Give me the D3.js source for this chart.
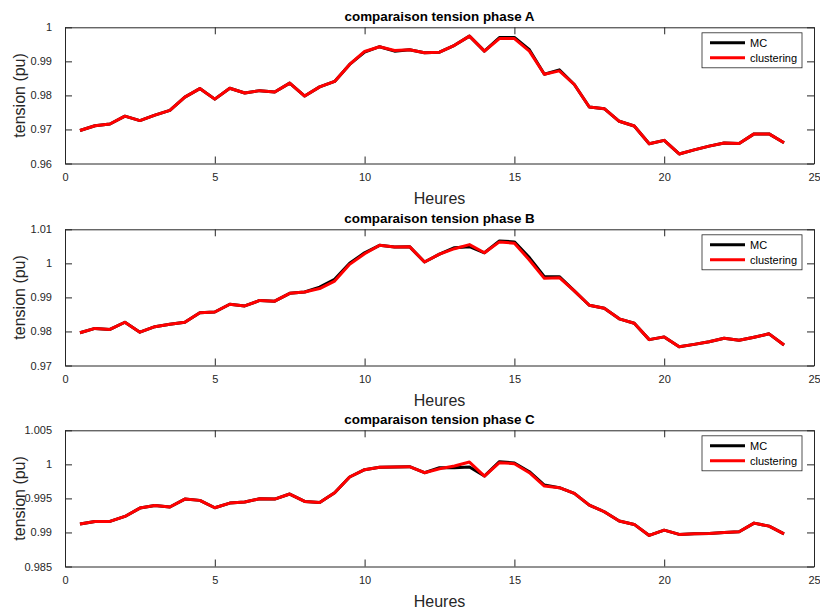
<!DOCTYPE html>
<html>
<head>
<meta charset="utf-8">
<script src="https://cdn.jsdelivr.net/npm/d3@7"></script>
<style>
  html, body { margin: 0; padding: 0; background: #fff; }
  svg { display: block; font-family: "Liberation Sans", Arial, Helvetica, sans-serif; }
</style>
</head>
<body>
<svg id="chart" width="820" height="610"></svg>
<script>
// ---- Data ----
const hours = [0.5,1,1.5,2,2.5,3,3.5,4,4.5,5,5.5,6,6.5,7,7.5,8,8.5,9,9.5,10,10.5,11,11.5,12,
               12.5,13,13.5,14,14.5,15,15.5,16,16.5,17,17.5,18,18.5,19,19.5,20,20.5,21,21.5,22,22.5,23,23.5,24];

const phaseA_clustering = [0.9697,0.9711,0.9716,0.9739,0.9726,0.9742,0.9756,0.9795,0.9820,0.9789,0.9821,0.9807,
  0.9814,0.9810,0.9836,0.9798,0.9825,0.9841,0.9891,0.9929,0.9943,0.9932,0.9934,0.9925,
  0.9927,0.9947,0.9974,0.9930,0.9967,0.9967,0.9930,0.9862,0.9872,0.9832,0.9766,0.9761,
  0.9724,0.9710,0.9658,0.9668,0.9628,0.9640,0.9651,0.9660,0.9659,0.9687,0.9687,0.9661];
const phaseA_MC = [0.9697,0.9711,0.9716,0.9739,0.9726,0.9742,0.9756,0.9795,0.9820,0.9789,0.9821,0.9807,
  0.9814,0.9810,0.9836,0.9798,0.9825,0.9841,0.9891,0.9927,0.9943,0.9930,0.9934,0.9925,
  0.9927,0.9947,0.9974,0.9930,0.9970,0.9970,0.9934,0.9862,0.9875,0.9832,0.9766,0.9761,
  0.9724,0.9710,0.9658,0.9668,0.9628,0.9640,0.9651,0.9660,0.9659,0.9687,0.9687,0.9661];

const phaseB_clustering = [0.9796,0.9809,0.9806,0.9827,0.9798,0.9814,0.9821,0.9827,0.9855,0.9857,0.9880,0.9875,
  0.9891,0.9889,0.9912,0.9916,0.9926,0.9948,0.9997,1.0028,1.0053,1.0048,1.0049,1.0004,
  1.0027,1.0043,1.0055,1.0031,1.0063,1.0059,1.0010,0.9956,0.9958,0.9919,0.9877,0.9868,
  0.9837,0.9824,0.9776,0.9784,0.9755,0.9762,0.9770,0.9780,0.9774,0.9783,0.9793,0.9760];
const phaseB_MC = [0.9796,0.9809,0.9806,0.9827,0.9798,0.9814,0.9821,0.9827,0.9855,0.9857,0.9880,0.9875,
  0.9891,0.9889,0.9912,0.9916,0.9930,0.9953,1.0000,1.0031,1.0053,1.0048,1.0049,1.0004,
  1.0027,1.0046,1.0049,1.0031,1.0066,1.0063,1.0017,0.9961,0.9961,0.9919,0.9877,0.9868,
  0.9837,0.9824,0.9776,0.9784,0.9755,0.9762,0.9770,0.9780,0.9774,0.9783,0.9793,0.9760];

const phaseC_clustering = [0.99123,0.99162,0.99162,0.99235,0.99358,0.99397,0.99373,0.99490,0.99471,0.99363,0.99431,0.99446,
  0.99495,0.99490,0.99564,0.99456,0.99441,0.99583,0.99814,0.99922,0.99956,0.99961,0.99966,0.99877,
  0.99936,0.99975,1.00034,0.99828,1.00025,1.00010,0.99877,0.99681,0.99657,0.99574,0.99402,0.99304,
  0.99167,0.99118,0.98956,0.99034,0.98971,0.98980,0.98985,0.99000,0.99010,0.99137,0.99093,0.98980];
const phaseC_MC = [0.99123,0.99162,0.99162,0.99235,0.99358,0.99397,0.99373,0.99490,0.99471,0.99363,0.99431,0.99446,
  0.99495,0.99490,0.99564,0.99456,0.99441,0.99583,0.99814,0.99922,0.99956,0.99961,0.99966,0.99877,
  0.99951,0.99951,0.99961,0.99828,1.00040,1.00020,0.99892,0.99696,0.99657,0.99574,0.99402,0.99304,
  0.99167,0.99118,0.98956,0.99034,0.98971,0.98980,0.98985,0.99000,0.99010,0.99137,0.99093,0.98980];

const titles = ["comparaison tension phase A", "comparaison tension phase B", "comparaison tension phase C"];
const yDomains = [[0.96, 1], [0.97, 1.01], [0.985, 1.005]];
const yTicks = [[0.96,0.97,0.98,0.99,1], [0.97,0.98,0.99,1,1.01], [0.985,0.99,0.995,1,1.005]];
const xTicks = [0,5,10,15,20,25];
const seriesNames = ["MC", "clustering"];
const xLabel = "Heures";
const yLabel = "tension (pu)";

// ---- Layout ----
const svg = d3.select("#chart");
const left = 65, right = 814;
const tops = [27.3, 229.3, 430.3];
const plotH = 136.2;
const axisColor = "#262626";
const colors = ["#000000", "#ff0000"];
const tickLen = 7;

const x = d3.scaleLinear().domain([0, 25]).range([left, right]);

const panels = [
  { title: titles[0], mc: phaseA_MC, cl: phaseA_clustering, dom: yDomains[0], ticks: yTicks[0] },
  { title: titles[1], mc: phaseB_MC, cl: phaseB_clustering, dom: yDomains[1], ticks: yTicks[1] },
  { title: titles[2], mc: phaseC_MC, cl: phaseC_clustering, dom: yDomains[2], ticks: yTicks[2] }
];

const fmt = v => String(+v.toFixed(3));

panels.forEach((p, i) => {
  const top = tops[i], bottom = top + plotH;
  const y = d3.scaleLinear().domain(p.dom).range([bottom, top]);
  const g = svg.append("g");

  const clipId = "clip" + i;
  svg.append("clipPath").attr("id", clipId).append("rect")
    .attr("x", left).attr("y", top).attr("width", right - left).attr("height", plotH);

  const line = d3.line().x((d, j) => x(hours[j])).y(d => y(d));
  const lg = g.append("g").attr("clip-path", `url(#${clipId})`);
  [p.mc, p.cl].forEach((s, k) => {
    lg.append("path").datum(s)
      .attr("fill", "none").attr("stroke", colors[k])
      .attr("stroke-width", 3).attr("stroke-linejoin", "round")
      .attr("d", line);
  });

  const axB = d3.axisBottom(x).tickValues(xTicks).tickSizeInner(-tickLen).tickSizeOuter(0).tickPadding(10).tickFormat(d => d);
  const axT = d3.axisTop(x).tickValues(xTicks).tickSizeInner(-tickLen).tickSizeOuter(0).tickFormat("");
  const axL = d3.axisLeft(y).tickValues(p.ticks).tickSizeInner(-tickLen).tickSizeOuter(0).tickPadding(13).tickFormat(fmt);
  const axR = d3.axisRight(y).tickValues(p.ticks).tickSizeInner(-tickLen).tickSizeOuter(0).tickFormat("");

  const style = sel => {
    sel.selectAll("path.domain").attr("stroke", axisColor).attr("stroke-width", 1);
    sel.selectAll(".tick line").attr("stroke", axisColor).attr("stroke-width", 1);
    sel.selectAll(".tick text").attr("fill", axisColor)
      .style("font-size", "11px").style("font-family", '"Liberation Sans", Arial, sans-serif');
  };
  g.append("g").attr("transform", `translate(0,${bottom})`).call(axB).call(style);
  g.append("g").attr("transform", `translate(0,${top})`).call(axT).call(style);
  g.append("g").attr("transform", `translate(${left},0)`).call(axL).call(style);
  g.append("g").attr("transform", `translate(${right},0)`).call(axR).call(style);

  g.append("text").attr("x", (left + right) / 2).attr("y", top - 6.5)
    .attr("text-anchor", "middle").attr("font-weight", "bold")
    .attr("font-size", "13.4px").attr("fill", "#000").text(p.title);

  g.append("text").attr("x", (left + right) / 2).attr("y", bottom + 40)
    .attr("text-anchor", "middle").attr("font-size", "16px").attr("fill", axisColor).text(xLabel);
  g.append("text")
    .attr("transform", `translate(25,${(top + bottom) / 2}) rotate(-90)`)
    .attr("text-anchor", "middle").attr("font-size", "16px").attr("fill", axisColor).text(yLabel);

  const lgx = 702, lgy = top + 5.5, lgw = 100, lgh = 35;
  const leg = g.append("g");
  leg.append("rect").attr("x", lgx).attr("y", lgy).attr("width", lgw).attr("height", lgh)
    .attr("fill", "#fff").attr("stroke", axisColor).attr("stroke-width", 0.8);
  seriesNames.forEach((n, k) => {
    const ly = lgy + 10 + k * 15;
    leg.append("line").attr("x1", lgx + 8).attr("x2", lgx + 43).attr("y1", ly).attr("y2", ly)
      .attr("stroke", colors[k]).attr("stroke-width", 3);
    leg.append("text").attr("x", lgx + 48).attr("y", ly + 4)
      .attr("font-size", "11px").attr("fill", "#000").text(n);
  });
});
</script>
</body>
</html>
